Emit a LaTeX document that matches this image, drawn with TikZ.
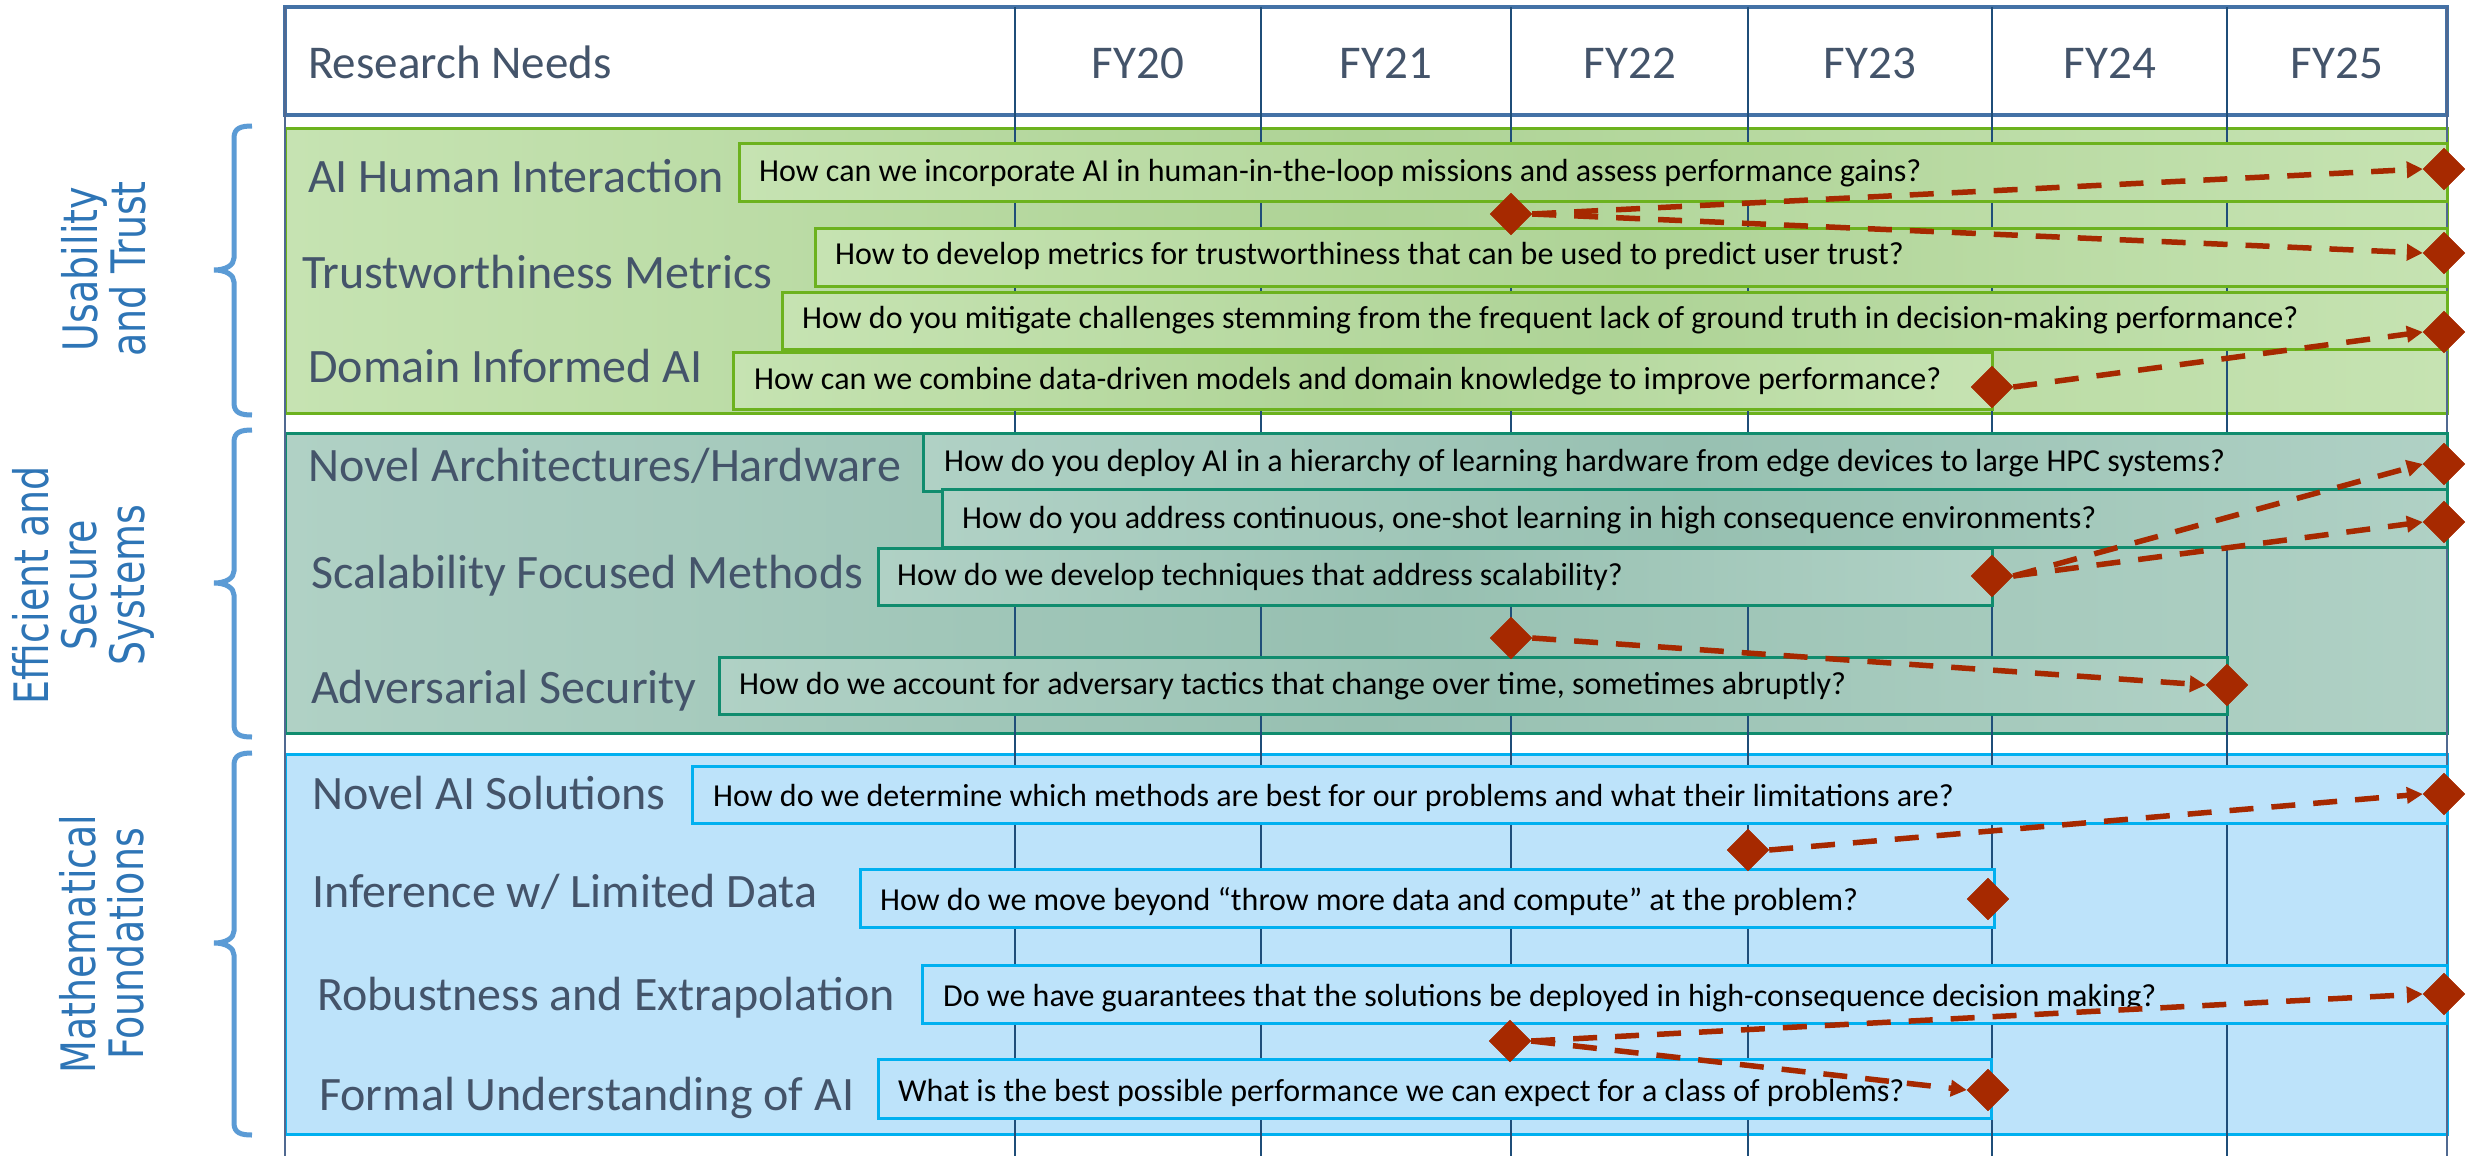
\documentclass[tikz,border=0pt]{standalone}
\usepackage{fontspec}
\usepackage{graphicx}
\setmainfont{Carlito}
\newfontfamily\grpfont{DejaVu Sans}
\usetikzlibrary{shapes.geometric,arrows.meta}
\definecolor{hdrline}{RGB}{68,114,166}
\definecolor{tblline}{RGB}{80,105,145}
\definecolor{gridc}{RGB}{31,78,121}
\definecolor{txtc}{RGB}{68,84,106}
\definecolor{grpc}{RGB}{46,117,182}
\definecolor{brcc}{RGB}{91,155,213}
\definecolor{gbord}{RGB}{108,178,30}
\definecolor{glt}{RGB}{198,227,178}
\definecolor{gdk}{RGB}{174,211,150}
\definecolor{tbord}{RGB}{16,140,110}
\definecolor{tlt}{RGB}{176,209,197}
\definecolor{tdk}{RGB}{151,192,177}
\definecolor{bbord}{RGB}{0,176,240}
\definecolor{bfill}{RGB}{189,227,250}
\definecolor{arrc}{RGB}{166,41,0}
\tikzset{
  gband/.style={draw=gbord,line width=3pt,left color=glt,right color=glt,middle color=gdk},
  tband/.style={draw=tbord,line width=3pt,left color=tlt,right color=tlt,middle color=tdk},
  bband/.style={draw=bbord,line width=3pt,fill=bfill},
  gridline/.style={draw=gridc,line width=2.5pt},
  hdrtxt/.style={inner sep=0pt,text=txtc,font=\fontsize{47}{56}\selectfont},
  cattxt/.style={inner sep=0pt,anchor=base west,text=txtc,font=\fontsize{48}{56}\selectfont},
  qtxt/.style={inner sep=0pt,anchor=base west,text=black,font=\fontsize{32}{38}\selectfont},
  grptxt/.style={inner sep=0pt,rotate=90,align=center,text=grpc,font=\grpfont\fontsize{38}{48}\selectfont},
  brc/.style={draw=brcc,line width=5pt},
  dmd/.style={diamond,fill=arrc,minimum width=42pt,minimum height=42pt,inner sep=0pt},
  darr/.style={draw=arrc,line width=5.5pt,dash pattern=on 24pt off 18pt,-{Triangle[length=16pt,width=16pt]}}
}
\newcommand\mybrace[3]{%
  \draw[brc] (252,#1) .. controls (241,#1) and (234,#1+2) .. (234,#1+12) -- (234,#2-12)
    .. controls (234,#2-5) and (226,#2) .. (214,#2) .. controls (226,#2) and (234,#2+5) .. (234,#2+12)
    -- (234,#3-12) .. controls (234,#3-2) and (241,#3) .. (252,#3);}
\begin{document}
\begin{tikzpicture}[x=1pt,y=-1pt]
\useasboundingbox (0,0) rectangle (2481,1156);
\fill[white] (0,0) rectangle (2481,1156);
% bands
\path[gband] (285,128) rectangle (2447,413);
\path[tband] (285,433) rectangle (2447,733);
\path[bband] (285,754) rectangle (2447,1134);
% header
\draw[draw=hdrline,line width=3.5pt] (285,7) rectangle (2447,115);
% table sides
\draw[draw=tblline,line width=2.5pt] (285,7) -- (285,1156);
\draw[draw=tblline,line width=2pt] (2447,7) -- (2447,1156);
% grid lines
\foreach \gx in {1015,1261,1511,1748,1992,2227}{\draw[gridline] (\gx,7) -- (\gx,1156);}
% header texts
\node[hdrtxt,anchor=base west] (hrn) at (308,78) {Research Needs};
\node[hdrtxt,anchor=base] (h20) at (1138,78) {FY20};
\node[hdrtxt,anchor=base] (h21) at (1386,78) {FY21};
\node[hdrtxt,anchor=base] (h22) at (1630,78) {FY22};
\node[hdrtxt,anchor=base] (h23) at (1870,78) {FY23};
\node[hdrtxt,anchor=base] (h24) at (2110,78) {FY24};
\node[hdrtxt,anchor=base] (h25) at (2337,78) {FY25};
% question boxes
\path[gband] (739,143) rectangle (2447,201);
\path[gband] (815,228) rectangle (2447,286);
\path[gband] (782,292) rectangle (2447,349);
\path[gband] (733,352) rectangle (1992,409);
\path[tband] (923,433) rectangle (2447,491);
\path[tband] (942,489) rectangle (2447,547);
\path[tband] (878,548) rectangle (1992,605);
\path[tband] (719,657) rectangle (2227,714);
\path[bband] (692,766) rectangle (2447,823);
\path[bband] (860,869) rectangle (1994,927);
\path[bband] (922,965) rectangle (2447,1023);
\path[bband] (878,1059) rectangle (1991,1118);
% question texts
\node[qtxt] (q1) at (759,181) {How can we incorporate AI in human-in-the-loop missions and assess performance gains?};
\node[qtxt] (q2) at (835,264) {How to develop metrics for trustworthiness that can be used to predict user trust?};
\node[qtxt] (q3) at (802,328) {How do you mitigate challenges stemming from the frequent lack of ground truth in decision-making performance?};
\node[qtxt] (q4) at (754,389) {How can we combine data-driven models and domain knowledge to improve performance?};
\node[qtxt] (q5) at (944,471) {How do you deploy AI in a hierarchy of learning hardware from edge devices to large HPC systems?};
\node[qtxt] (q6) at (962,528) {How do you address continuous, one-shot learning in high consequence environments?};
\node[qtxt] (q7) at (897,585) {How do we develop techniques that address scalability?};
\node[qtxt] (q8) at (739,694) {How do we account for adversary tactics that change over time, sometimes abruptly?};
\node[qtxt] (q9) at (713,806) {How do we determine which methods are best for our problems and what their limitations are?};
\node[qtxt] (q10) at (880,910) {How do we move beyond “throw more data and compute” at the problem?};
\node[qtxt] (q11) at (943,1006) {Do we have guarantees that the solutions be deployed in high-consequence decision making?};
\node[qtxt] (q12) at (898,1101) {What is the best possible performance we can expect for a class of problems?};
% category labels
\node[cattxt] (c1) at (308,192) {AI Human Interaction};
\node[cattxt] (c2) at (302,288) {Trustworthiness Metrics};
\node[cattxt] (c3) at (308,382) {Domain Informed AI};
\node[cattxt] (c4) at (308,481) {Novel Architectures/Hardware};
\node[cattxt] (c5) at (311,588) {Scalability Focused Methods};
\node[cattxt] (c6) at (311,703) {Adversarial Security};
\node[cattxt] (c7) at (312,809) {Novel AI Solutions};
\node[cattxt] (c8) at (312,907) {Inference w/ Limited Data};
\node[cattxt] (c9) at (317,1010) {Robustness and Extrapolation};
\node[cattxt] (c10) at (319,1110) {Formal Understanding of AI};
% group labels and braces
\node[grptxt] (g1) at (104,269) {\scalebox{1}[1.25]{Usability}\\\scalebox{1}[1.25]{and Trust}};
\node[grptxt] (g2) at (83,585) {\scalebox{1}[1.25]{Efficient and}\\\scalebox{1}[1.25]{Secure}\\\scalebox{1}[1.25]{Systems}};
\node[grptxt] (g3) at (102,944) {\scalebox{1}[1.25]{Mathematical}\\\scalebox{1}[1.25]{Foundations}};
\mybrace{126}{270}{415}
\mybrace{430}{583}{737}
\mybrace{753}{943}{1135}
% diamonds
\node[dmd] (s1) at (1511,214) {};
\node[dmd] (e1) at (2444,169) {};
\node[dmd] (e2) at (2444,253) {};
\node[dmd] (s2) at (1992,387) {};
\node[dmd] (e3) at (2444,332) {};
\node[dmd] (s3) at (1992,576) {};
\node[dmd] (e4) at (2444,464) {};
\node[dmd] (e5) at (2444,522) {};
\node[dmd] (s4) at (1511,638) {};
\node[dmd] (e6) at (2227,685) {};
\node[dmd] (s5) at (1748,850) {};
\node[dmd] (e7) at (2444,794) {};
\node[dmd] (s6) at (1988,899) {};
\node[dmd] (s7) at (1510,1041) {};
\node[dmd] (e8) at (2444,994) {};
\node[dmd] (e9) at (1988,1090) {};
% arrows
\draw[darr] (s1.east) -- (e1.west);
\draw[darr] (s1.east) -- (e2.west);
\draw[darr] (s2.east) -- (e3.west);
\draw[darr] (s3.east) -- (e4.west);
\draw[darr] (s3.east) -- (e5.west);
\draw[darr] (s4.east) -- (e6.west);
\draw[darr] (s5.east) -- (e7.west);
\draw[darr] (s7.east) -- (e8.west);
\draw[darr] (s7.east) -- (e9.west);
% redraw diamonds on top
\foreach \d in {s1,e1,e2,s2,e3,s3,e4,e5,s4,e6,s5,e7,s6,s7,e8,e9}{\fill[arrc] (\d.north) -- (\d.east) -- (\d.south) -- (\d.west) -- cycle;}
\end{tikzpicture}
\end{document}
